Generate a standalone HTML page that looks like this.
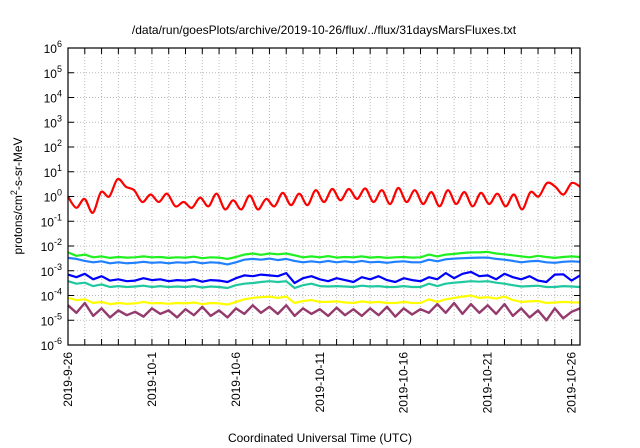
<!DOCTYPE html>
<html><head><meta charset="utf-8"><style>
body{margin:0;background:#fff;}
svg{display:block;font-family:"Liberation Sans",sans-serif;}
</style></head><body>
<svg id="chart" width="640" height="448">
<text x="324" y="34" font-size="12" text-anchor="middle">/data/run/goesPlots/archive/2019-10-26/flux/../flux/31daysMarsFluxes.txt</text>
<text x="320" y="442" font-size="12" text-anchor="middle">Coordinated Universal Time (UTC)</text>
<text transform="translate(22,196) rotate(-90)" font-size="12" text-anchor="middle">protons/cm<tspan dy="-5" font-size="9">2</tspan><tspan dy="5">-s-sr-MeV</tspan></text>
<g id="grid"></g><g id="series"></g><g id="axes"></g>
</svg>
<script>
const yExponents=[-6,-5,-4,-3,-2,-1,0,1,2,3,4,5,6];
const xTickLabels=["2019-9-26","2019-10-1","2019-10-6","2019-10-11","2019-10-16","2019-10-21","2019-10-26"];
const xTickDays=[0,5,10,15,20,25,30];
const red=[1.0,0.35,0.8,0.22,1.5,1.0,5,2.5,1.8,0.6,1.2,0.6,1.3,0.4,0.6,0.35,0.9,0.4,1.3,0.3,0.7,0.3,1.1,0.3,0.8,0.4,1.4,0.45,1.3,0.45,1.8,0.6,2.0,0.7,2.0,0.8,2.1,0.6,1.8,0.5,2.2,0.6,1.8,0.5,1.5,0.4,1.8,0.5,1.5,0.4,1.4,0.5,1.3,0.4,1.2,0.3,1.5,1.0,3.5,2.5,1.2,3.5,2.5];
const green=[5.5e-3,4e-3,4.5e-3,3.5e-3,3.8e-3,3.3e-3,3.6e-3,3.4e-3,3.5e-3,3.8e-3,3.5e-3,3.6e-3,3.3e-3,3.5e-3,3.4e-3,3.7e-3,3.2e-3,3.5e-3,3.4e-3,3e-3,3.6e-3,4.5e-3,5e-3,4.4e-3,5e-3,4.6e-3,5e-3,4.2e-3,3.5e-3,3.8e-3,3.5e-3,3.9e-3,3.4e-3,3.6e-3,3.5e-3,3.8e-3,3.4e-3,3.6e-3,3.3e-3,3.5e-3,3.6e-3,3.4e-3,3.5e-3,4.5e-3,3.8e-3,4.5e-3,4.8e-3,5.2e-3,5.5e-3,5.5e-3,5.8e-3,5e-3,4.6e-3,4.2e-3,3.8e-3,3.5e-3,4e-3,3.6e-3,3.3e-3,3.6e-3,3.8e-3,3.6e-3];
const lightBlue=[3.3e-3,3e-3,2.5e-3,2.2e-3,2.4e-3,2e-3,2.2e-3,2e-3,2.1e-3,2.3e-3,2.1e-3,2.2e-3,2e-3,2.2e-3,2.1e-3,2.3e-3,2e-3,2.2e-3,2.1e-3,1.8e-3,2.2e-3,2.8e-3,3e-3,2.8e-3,3.1e-3,2.7e-3,3e-3,2.5e-3,2.2e-3,2.4e-3,2.2e-3,2.5e-3,2.2e-3,2.4e-3,2.2e-3,2.5e-3,2.2e-3,2.3e-3,2.1e-3,2.3e-3,2.4e-3,2.2e-3,2.2e-3,2.8e-3,2.4e-3,2.9e-3,3.1e-3,3.2e-3,3.3e-3,3.4e-3,3.4e-3,3e-3,2.8e-3,2.5e-3,2.2e-3,2.4e-3,2.5e-3,2.2e-3,2.1e-3,2.3e-3,2.4e-3,2.3e-3];
const blue=[7e-4,5.5e-4,7.5e-4,4.5e-4,6e-4,4e-4,4.5e-4,3.8e-4,4e-4,5e-4,4.2e-4,4.5e-4,3.8e-4,4.2e-4,4e-4,4.5e-4,3.6e-4,4.2e-4,4e-4,3.5e-4,5e-4,6.5e-4,6e-4,7e-4,6.5e-4,6e-4,8e-4,3.2e-4,5e-4,6e-4,4.5e-4,3.8e-4,5e-4,4.2e-4,3.5e-4,5.5e-4,4.5e-4,6e-4,4.2e-4,3.5e-4,5e-4,4.2e-4,3.8e-4,5.5e-4,4.5e-4,8e-4,5e-4,7.5e-4,9e-4,6e-4,6.5e-4,4.5e-4,7.5e-4,5.5e-4,4.5e-4,6e-4,4e-4,3.5e-4,7e-4,7.2e-4,4e-4,6.5e-4];
const teal=[3.8e-4,3e-4,3.3e-4,2.4e-4,2.8e-4,2.2e-4,2.4e-4,2.2e-4,2.3e-4,2.5e-4,2.2e-4,2.4e-4,2.2e-4,2.3e-4,2.2e-4,2.4e-4,2.1e-4,2.3e-4,2.2e-4,2e-4,2.6e-4,3e-4,3.2e-4,3.5e-4,3.8e-4,3.5e-4,3.8e-4,2e-4,2.6e-4,3e-4,2.4e-4,2.3e-4,2.4e-4,2.3e-4,2.2e-4,2.5e-4,2.3e-4,2.4e-4,2.2e-4,2.2e-4,2.4e-4,2.2e-4,2.2e-4,3e-4,2.4e-4,3e-4,3.3e-4,3.5e-4,3.8e-4,3.6e-4,3.8e-4,3.3e-4,3e-4,2.6e-4,2.3e-4,2.4e-4,2.5e-4,2.2e-4,2.2e-4,2.4e-4,2.3e-4,2.2e-4];
const yellow=[8e-5,6.5e-5,7e-5,5e-5,5.5e-5,4.5e-5,5e-5,4.6e-5,4.8e-5,5.5e-5,4.8e-5,5e-5,4.6e-5,5e-5,4.8e-5,5.2e-5,4.5e-5,5e-5,4.8e-5,4.3e-5,5.5e-5,7e-5,8e-5,8.5e-5,9e-5,8e-5,9e-5,5e-5,6e-5,6.5e-5,5.5e-5,5.5e-5,5.8e-5,5.2e-5,5e-5,5.8e-5,5.2e-5,5.5e-5,5e-5,5e-5,5.5e-5,5e-5,5e-5,7e-5,5.5e-5,7e-5,8e-5,9e-5,1e-4,8e-5,8.5e-5,7.5e-5,9e-5,6.5e-5,5.5e-5,5.8e-5,6e-5,5e-5,5.2e-5,5.5e-5,5.3e-5,5.2e-5];
const maroon=[4e-5,2e-5,5e-5,1.5e-5,3e-5,1.3e-5,2.5e-5,1.6e-5,2.2e-5,1.4e-5,3e-5,1.8e-5,2.5e-5,1.3e-5,2.8e-5,1.6e-5,3.5e-5,1.5e-5,2.5e-5,1.3e-5,3e-5,1.8e-5,4e-5,2e-5,3.5e-5,1.8e-5,4e-5,1.5e-5,3e-5,1.8e-5,2.8e-5,1.5e-5,3.2e-5,1.6e-5,2.8e-5,1.5e-5,3e-5,1.6e-5,3.5e-5,1.4e-5,3e-5,1.7e-5,2.8e-5,2e-5,4.5e-5,2e-5,5e-5,1.8e-5,4.5e-5,2e-5,4e-5,1.8e-5,4.5e-5,1.5e-5,3e-5,1.3e-5,2.5e-5,1e-5,3e-5,1.2e-5,2.2e-5,3e-5];
const seriesList=[
 {name:"series-maroon",data:maroon,color:"#943a6c",w:2.4,smooth:false},
 {name:"series-yellow",data:yellow,color:"#ffff00",w:2.2,smooth:false},
 {name:"series-teal",data:teal,color:"#20c8a0",w:2.2,smooth:false},
 {name:"series-blue",data:blue,color:"#0000ff",w:2.2,smooth:false},
 {name:"series-light-blue",data:lightBlue,color:"#2080ff",w:2.2,smooth:false},
 {name:"series-green",data:green,color:"#20f020",w:2.2,smooth:false},
 {name:"series-red",data:red,color:"#ff0000",w:2.2,smooth:true}
];
const L=68,R=580,T=48,B=345,DAYS=30.5;
function xs(d){return L+(R-L)*d/DAYS;}
function ys(v){return B-(Math.log10(v)+6)/12*(B-T);}
const NS="http://www.w3.org/2000/svg";
function mk(tag,attrs,parent){const e=document.createElementNS(NS,tag);for(const k in attrs)e.setAttribute(k,attrs[k]);parent.appendChild(e);return e;}
const grid=document.getElementById("grid"),axes=document.getElementById("axes"),ser=document.getElementById("series");
for(let d=1;d<=30;d++){
 const g=mk("line",{x1:xs(d),x2:xs(d),y1:T,y2:B,stroke:"#bbb","stroke-dasharray":"1,2","stroke-width":1},grid);
 
 
 const t1=mk("line",{x1:xs(d),x2:xs(d),y1:B,y2:B-6,stroke:"#000"},axes);
 
 
 const t2=mk("line",{x1:xs(d),x2:xs(d),y1:T,y2:T+6,stroke:"#000"},axes);
 
 
}
yExponents.forEach(e=>{
 const y=ys(Math.pow(10,e));
 if(e>-6&&e<6){
  const g=mk("line",{x1:L,x2:R,y1:y,y2:y,stroke:"#bbb","stroke-dasharray":"1,2"},grid);
  
  
 }
 const tk=mk("line",{x1:L,x2:L+6,y1:y,y2:y,stroke:"#000"},axes);
 
 
 const tk2=mk("line",{x1:R,x2:R-6,y1:y,y2:y,stroke:"#000"},axes);
 
 
 const t=mk("text",{x:L-6,y:y+5,"font-size":12,"text-anchor":"end"},axes);
 
 
 t.innerHTML='10<tspan dy="-6" font-size="9">'+e+'</tspan>';
});
xTickLabels.forEach((lab,i)=>{
 const x=xs(xTickDays[i]);
 const t=mk("text",{transform:"translate("+(x+4)+","+(B+7)+") rotate(-90)","font-size":12,"text-anchor":"end"},axes);
 
 
 t.textContent=lab;
});
const frame=mk("rect",{x:L,y:T,width:R-L,height:B-T,fill:"none",stroke:"#000","stroke-width":1.2},axes);


function smoothPath(pts){
 let d="M"+pts[0][0].toFixed(1)+","+pts[0][1].toFixed(1);
 for(let i=0;i<pts.length-1;i++){
  const p0=pts[Math.max(0,i-1)],p1=pts[i],p2=pts[i+1],p3=pts[Math.min(pts.length-1,i+2)];
  const c1x=p1[0]+(p2[0]-p0[0])/6,c1y=p1[1]+(p2[1]-p0[1])/6;
  const c2x=p2[0]-(p3[0]-p1[0])/6,c2y=p2[1]-(p3[1]-p1[1])/6;
  d+=" C"+c1x.toFixed(1)+","+c1y.toFixed(1)+" "+c2x.toFixed(1)+","+c2y.toFixed(1)+" "+p2[0].toFixed(1)+","+p2[1].toFixed(1);
 }
 return d;
}
seriesList.forEach(s=>{
 const n=s.data.length;
 const pts=s.data.map((v,i)=>[xs(i*DAYS/(n-1)),ys(v)]);
 let p;
 if(s.smooth){
  p=mk("path",{d:smoothPath(pts),fill:"none",stroke:s.color,"stroke-width":s.w,"stroke-linejoin":"round"},ser);
 } else {
  p=mk("polyline",{points:pts.map(q=>q[0].toFixed(1)+","+q[1].toFixed(1)).join(" "),fill:"none",stroke:s.color,"stroke-width":s.w,"stroke-linejoin":"round"},ser);
 }
 
 
});
</script>
</body></html>
